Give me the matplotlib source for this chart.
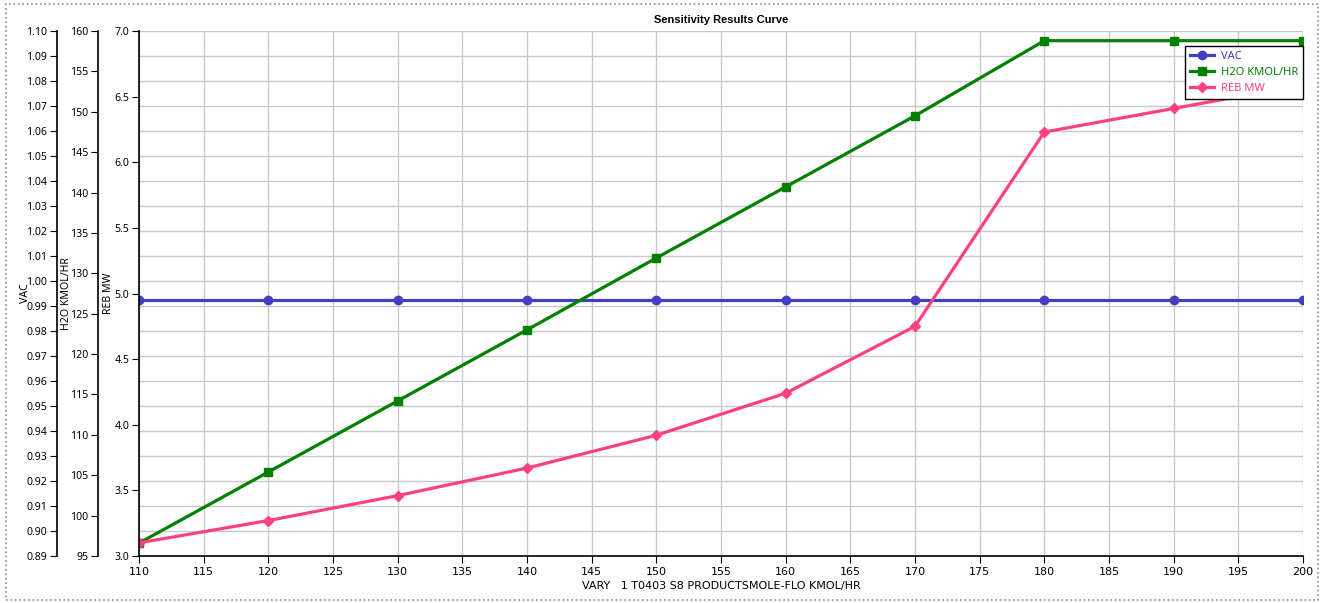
import matplotlib
matplotlib.use("Agg")
import matplotlib.pyplot as plt
from matplotlib.patches import Rectangle

# Daten
vary_flow = [110, 120, 130, 140, 150, 160, 170, 180, 190, 200]
vac = [0.9924] * 10
h2o_kmol = [96.6, 105.4, 114.2, 123.0, 131.9, 140.7, 149.5, 158.8, 158.8, 158.8]
reb_mw = [3.10, 3.27, 3.46, 3.67, 3.92, 4.24, 4.75, 6.23, 6.41, 6.59]

series_names = ["VAC", "H2O KMOL/HR", "REB MW"]
colors = ["#4040C0", "#008000", "#FF4080"]
x_label = "VARY   1 T0403 S8 PRODUCTSMOLE-FLO KMOL/HR"
title = "Sensitivity Results Curve"

W, H = 1325, 603
fig = plt.figure(figsize=(W / 100, H / 100), dpi=100)
fig.patch.set_facecolor("white")

# Plotbereich in Pixeln
px_l, px_r, px_t, px_b = 139, 1303, 31, 556
ax = fig.add_axes([px_l / W, 1 - px_b / H, (px_r - px_l) / W, (px_b - px_t) / H])
ax2 = ax.twinx()
ax3 = ax.twinx()

tick_font = "Noto Sans"
narrow_font = ["Liberation Sans Narrow", "DejaVu Sans"]
fs = 7.6

# Achse 1: VAC (mit Gitter)
ax.plot(vary_flow, vac, color=colors[0], lw=2.3, marker="o", ms=6, label=series_names[0])
ax.set_xlim(110, 200)
ax.set_ylim(0.89, 1.10)
ax.set_xticks(range(110, 201, 5))
ax.set_yticks([0.89 + 0.01 * i for i in range(22)])
ax.set_yticklabels([f"{0.89 + 0.01 * i:.2f}" for i in range(22)])
ax.grid(True, color="#C8C8C8", lw=1)
ax.set_axisbelow(True)
ax.spines["left"].set_position(("axes", (57 - px_l) / (px_r - px_l)))
ax.spines["top"].set_visible(False)
ax.spines["right"].set_visible(False)
ax.tick_params(axis="y", labelsize=fs, labelfontfamily=tick_font, length=5, pad=2)
ax.tick_params(axis="x", labelsize=8, labelfontfamily=narrow_font, length=5, pad=3)
ax.set_ylabel("VAC", fontsize=fs, family=tick_font)
ax.yaxis.set_label_coords((31 - px_l) / (px_r - px_l), 0.5)
ax.set_xlabel(x_label, fontsize=8, family=narrow_font, labelpad=3)

# Achse 2: H2O
ax2.plot(vary_flow, h2o_kmol, color=colors[1], lw=2.3, marker="s", ms=5.5, label=series_names[1])
ax2.set_ylim(95, 160)
ax2.set_yticks(range(95, 161, 5))
ax2.yaxis.tick_left()
ax2.yaxis.set_label_position("left")
ax2.spines["left"].set_position(("axes", (98 - px_l) / (px_r - px_l)))
for s in ["top", "bottom", "right"]:
    ax2.spines[s].set_visible(False)
ax2.spines["left"].set_visible(True)
ax2.tick_params(axis="y", labelsize=fs, labelfontfamily=tick_font, length=5, pad=2)
ax2.set_ylabel("H2O KMOL/HR", fontsize=fs, family=tick_font)
ax2.yaxis.set_label_coords((72 - px_l) / (px_r - px_l), 0.5)

# Achse 3: REB MW
ax3.plot(vary_flow, reb_mw, color=colors[2], lw=2.3, marker="D", ms=5.5, label=series_names[2])
ax3.set_ylim(3.0, 7.0)
ax3.set_yticks([3.0 + 0.5 * i for i in range(9)])
ax3.set_yticklabels([f"{3.0 + 0.5 * i:.1f}" for i in range(9)])
ax3.yaxis.tick_left()
ax3.yaxis.set_label_position("left")
ax3.spines["left"].set_position(("axes", 0))
for s in ["top", "bottom", "right"]:
    ax3.spines[s].set_visible(False)
ax3.spines["left"].set_visible(True)
ax3.tick_params(axis="y", labelsize=fs, labelfontfamily=tick_font, length=5, pad=2)
ax3.set_ylabel("REB MW", fontsize=fs, family=tick_font)
ax3.yaxis.set_label_coords((114 - px_l) / (px_r - px_l), 0.5)

for a in (ax, ax2, ax3):
    for s in a.spines.values():
        s.set_linewidth(1.2)

fig.text((px_l + px_r) / 2 / W, 1 - 20 / H, title, ha="center", va="center",
         fontsize=8, fontweight="bold", family="Liberation Sans")

# Legende
handles = [ax.get_lines()[0], ax2.get_lines()[0], ax3.get_lines()[0]]
leg = ax3.legend(handles, series_names, loc="upper right",
                 bbox_to_anchor=(1303 / W, 1 - 46 / H), bbox_transform=fig.transFigure,
                 borderaxespad=0, fancybox=False, framealpha=1, edgecolor="black",
                 prop={"family": tick_font, "size": 8}, handlelength=2.2,
                 labelspacing=0.45, borderpad=0.45, handletextpad=0.6)
leg.get_frame().set_linewidth(1.0)
for txt, c in zip(leg.get_texts(), colors):
    txt.set_color(c)

# Rahmen um das Bild
fig.patches.append(Rectangle((6 / W, 3 / H), (W - 13) / W, (H - 7) / H,
                             transform=fig.transFigure, fill=False,
                             edgecolor="#8A8A8A", lw=1.2, ls=":"))

fig.savefig("out.png", dpi=100)
